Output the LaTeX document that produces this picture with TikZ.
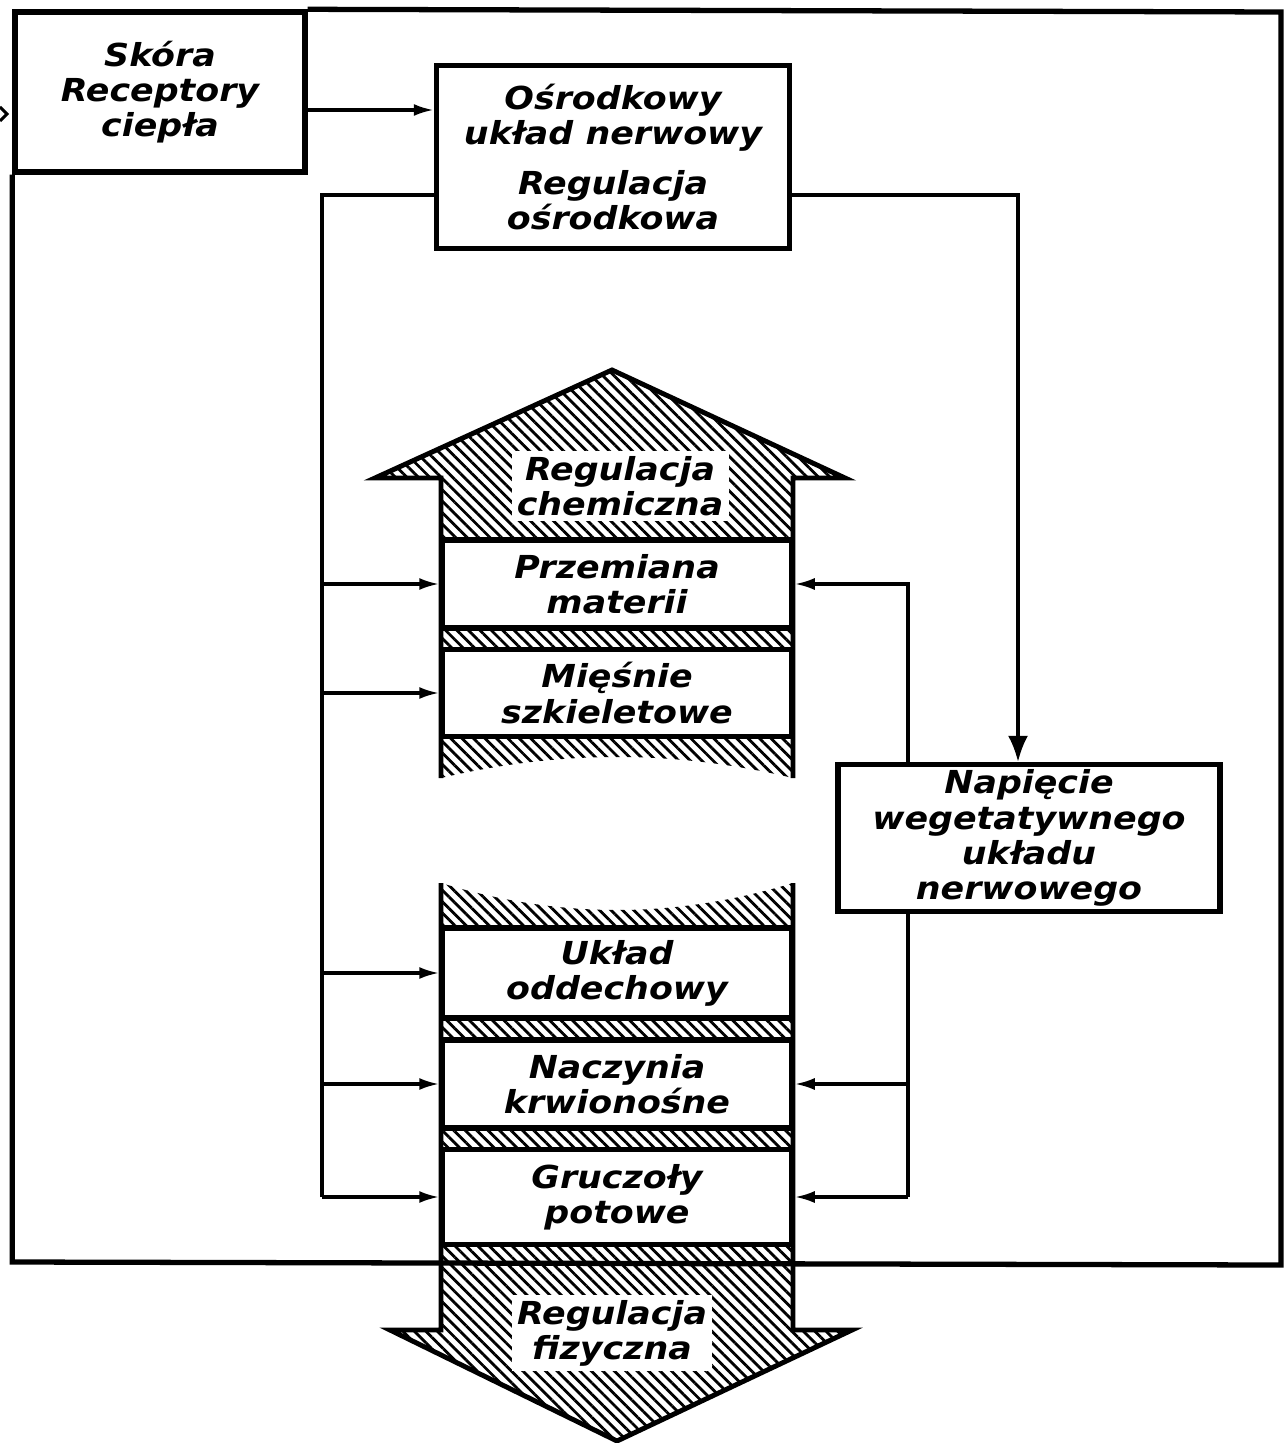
\documentclass[tikz,border=0pt]{standalone}
\usepackage{fontspec}
\newfontfamily\schemafont{DejaVu Sans}[FakeStretch=1.1]
\usetikzlibrary{arrows.meta,patterns.meta}
\tikzset{
  napis/.style={align=center, font=\schemafont\bfseries\itshape\fontsize{9}{10}\selectfont},
  blok/.style={napis, draw, line width=1.5pt, fill=white, inner sep=0pt},
  etykieta/.style={napis, fill=white, inner sep=1.5pt},
  kreskowanie/.style={pattern={Lines[angle=-45,distance=2.3pt,line width=0.8pt]}},
  kontur/.style={line width=1.4pt, line join=miter},
  linia/.style={line width=0.9pt},
  strz/.style={linia, -{Latex[length=0.2cm,width=0.12cm]}},
  strzd/.style={linia, -{Latex[length=0.26cm,width=0.2cm]}},
  rama/.style={line width=1.5pt}
}

\begin{document}
\begin{tikzpicture}[x=0.01cm, y=-0.01cm]
            \useasboundingbox (0,0) rectangle (1285,1443);
            % strzalki kreskowane
            \fill[kreskowanie] (441,778) -- (441,478) -- (375,478) -- (612,370) -- (845,478) -- (793,478) -- (793,778) .. controls (675,750) and (559,750) .. (441,778) -- cycle;
            \fill[kreskowanie] (441,883) .. controls (559,919) and (675,919) .. (793,883) -- (793,1330) -- (852,1330) -- (617,1441) -- (390,1330) -- (441,1330) -- cycle;
            \draw[kontur] (441,778) -- (441,478) -- (375,478) -- (612,370) -- (845,478) -- (793,478) -- (793,778);
            \draw[kontur] (441,883) -- (441,1330) -- (390,1330) -- (617,1441) -- (852,1330) -- (793,1330) -- (793,883);
            \node[etykieta] (chem) at (620,486) {Regulacja\\chemiczna};
            \node[etykieta] (fiz) at (612,1333) {Regulacja\\fizyczna};
            % bloki
            \node[blok, minimum width=2.9cm, minimum height=1.6cm] (skora) at (160,92) {Skóra\\Receptory\\ciepła};
            \node[blok, minimum width=3.53cm, minimum height=1.83cm] (oun) at (613,157) {Ośrodkowy\\układ nerwowy\\[4pt]Regulacja\\ośrodkowa};
            \node[blok, minimum width=3.82cm, minimum height=1.47cm] (napiecie) at (1029,838) {Napięcie\\wegetatywnego\\układu\\nerwowego};
            \node[blok, minimum width=3.5cm, minimum height=0.88cm] (przem) at (617,584) {Przemiana\\materii};
            \node[blok, minimum width=3.5cm, minimum height=0.87cm] (miesn) at (617,693) {Mięśnie\\szkieletowe};
            \node[blok, minimum width=3.5cm, minimum height=0.9cm] (uklad) at (617,973) {Układ\\oddechowy};
            \node[blok, minimum width=3.5cm, minimum height=0.88cm] (naczy) at (617,1084) {Naczynia\\krwionośne};
            \node[blok, minimum width=3.5cm, minimum height=0.95cm] (gruc) at (617,1197) {Gruczoły\\potowe};
            % polaczenia
            \draw[strz] (skora.east |- 0,110) -- (oun.west |- 0,110);
            \coordinate (lg) at (322,195);
            \coordinate (ld) at (322,1197);
            \draw[linia] (oun.west |- lg) -- (lg) -- (ld);
            \draw[strz] (ld) -- (gruc.west);
            \foreach \n in {przem,miesn,uklad,naczy}
                \draw[strz] (lg |- \n.west) -- (\n.west);
            \coordinate (pg) at (1018,195);
            \draw[strzd] (oun.east |- pg) -- (pg) -- (pg |- napiecie.north);
            \coordinate (ng) at (908,584);
            \coordinate (nd) at (908,1197);
            \draw[strz] (napiecie.north -| ng) -- (ng) -- (przem.east);
            \draw[linia] (napiecie.south -| nd) -- (nd);
            \draw[strz] (nd) -- (gruc.east);
            \draw[strz] (nd |- naczy.east) -- (naczy.east);
            % rama
            \draw[rama] (skora.north east) -- (1281,12) -- (1281,1265) -- (skora.south west |- 0,1262) -- (skora.south west);
            \draw[linia] (0,107) -- (7,114) -- (0,121);
        \end{tikzpicture}
\end{document}
